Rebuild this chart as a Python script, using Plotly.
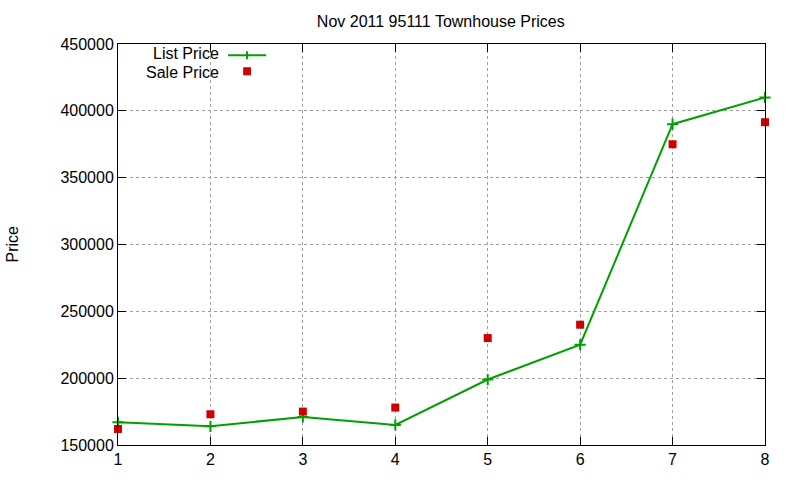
import plotly.graph_objects as go

months = [1, 2, 3, 4, 5, 6, 7, 8]
list_price = [167000, 164000, 171000, 165000, 199000, 225000, 390000, 410000]
sale_price = [162000, 173000, 175000, 178000, 230000, 240000, 375000, 391500]

FONT = "Liberation Sans, Arial, sans-serif"
GREEN = "#00a000"
RED = "#cc0000"

fig = go.Figure()
fig.add_trace(go.Scatter(x=months, y=list_price, mode="lines+markers", name="List Price",
                         line=dict(color=GREEN, width=2),
                         marker=dict(symbol="cross-thin", size=8, line=dict(color=GREEN, width=2)),
                         showlegend=False, cliponaxis=False))
fig.add_trace(go.Scatter(x=months, y=sale_price, mode="markers", name="Sale Price",
                         marker=dict(symbol="square", size=8, color=RED),
                         showlegend=False, cliponaxis=False))

axis_common = dict(showline=True, linecolor="black", linewidth=1, mirror="ticks",
                   ticks="inside", ticklen=8, tickcolor="black",
                   showgrid=True, gridcolor="#a0a0a0", griddash="dot", gridwidth=1,
                   zeroline=False, tickfont=dict(family=FONT, size=16, color="black"))

fig.update_xaxes(range=[1, 8], tickvals=months, **axis_common)
fig.update_yaxes(range=[150000, 450000], tickvals=list(range(150000, 450001, 50000)),
                 tickformat="d", **axis_common)

# legend drawn manually (gnuplot style: text then sample)
fig.add_annotation(x=0.153, y=0.977, xref="paper", yref="paper", text="List Price",
                   showarrow=False, xanchor="right", yanchor="middle", xshift=3,
                   height=15, borderpad=0,
                   font=dict(family=FONT, size=16, color="black"))
fig.add_annotation(x=0.153, y=0.930, xref="paper", yref="paper", text="Sale Price",
                   showarrow=False, xanchor="right", yanchor="middle", xshift=3,
                   height=15, borderpad=0,
                   font=dict(family=FONT, size=16, color="black"))
fig.add_shape(type="line", xref="paper", yref="paper", x0=0.170, x1=0.229, y0=0.972, y1=0.972,
              line=dict(color=GREEN, width=2))
fig.add_shape(type="line", xref="paper", yref="paper", x0=0.1995, x1=0.1995, y0=0.962, y1=0.982,
              line=dict(color=GREEN, width=2))
fig.add_shape(type="rect", xref="paper", yref="paper", x0=0.1935, x1=0.2055, y0=0.922, y1=0.942,
              line=dict(width=0), fillcolor=RED)

fig.add_annotation(x=0, y=0.5, xref="paper", yref="paper", text="Price", textangle=-90,
                   showarrow=False, xanchor="center", yanchor="middle", xshift=-106,
                   font=dict(family=FONT, size=16, color="black"))

fig.update_layout(
    width=800, height=480,
    margin=dict(l=118, r=35, t=44, b=29),
    paper_bgcolor="white", plot_bgcolor="white",
    title=dict(text="Nov 2011 95111 Townhouse Prices", x=0.551, xanchor="center", y=0.956, yanchor="middle",
               font=dict(family=FONT, size=16, color="black")),
    showlegend=False,
)

fig.write_html("out.html")
